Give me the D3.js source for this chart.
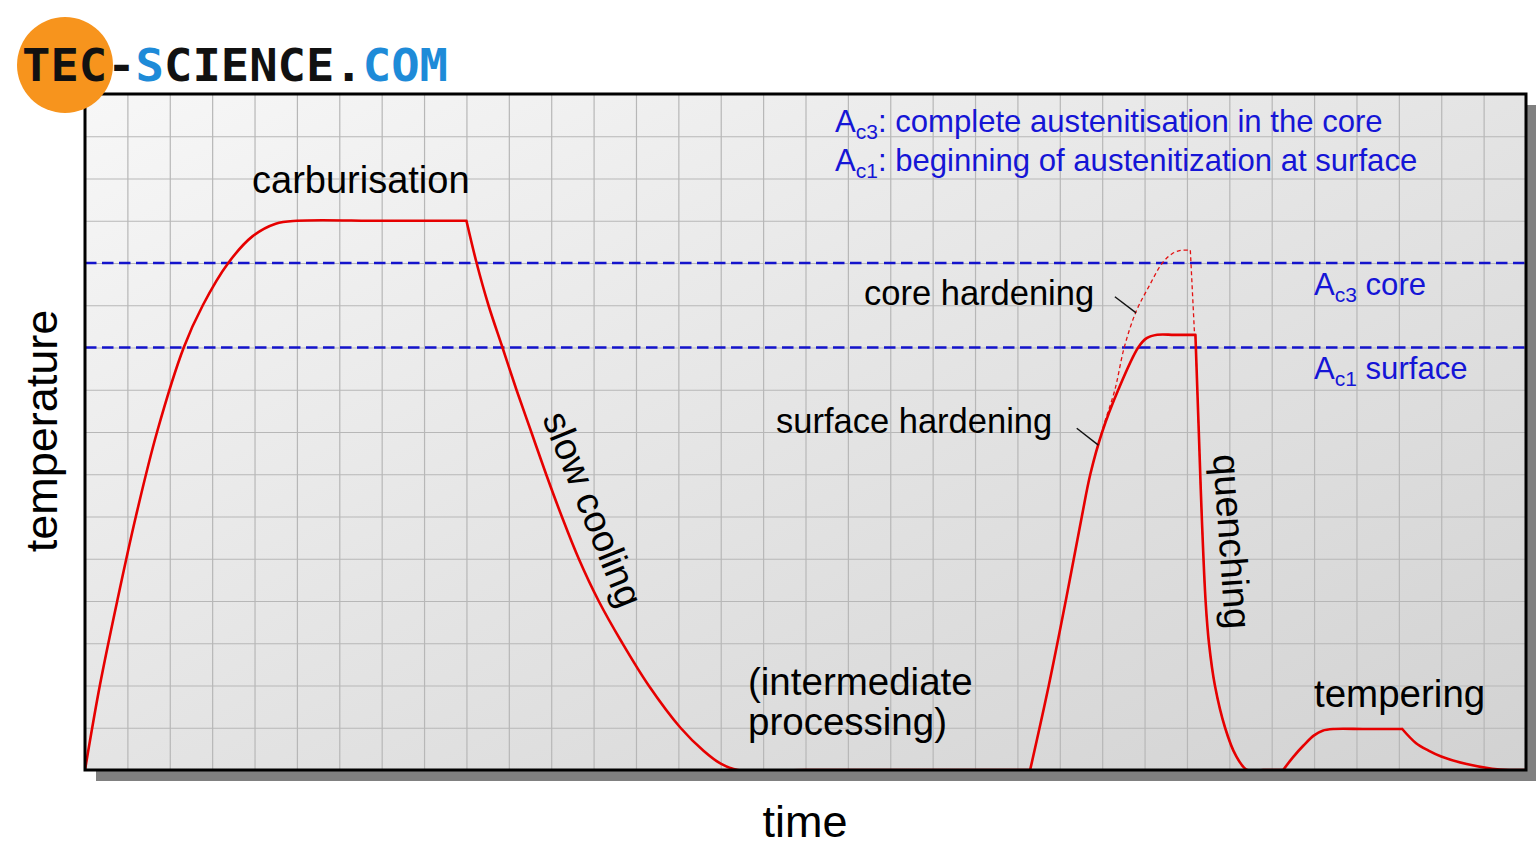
<!DOCTYPE html>
<html><head><meta charset="utf-8">
<script src="https://cdn.jsdelivr.net/npm/d3@7"></script>
<style>html,body{margin:0;padding:0;background:#fff;overflow:hidden}svg{display:block}</style>
</head><body>
<script>
// ---------- data (time and temperature in grid units) ----------
const timeDomain = [0, 34];
const tempDomain = [0, 16];
const thresholds = [12, 10];               // Ac3 core, Ac1 surface

// carburisation: heating + holding (smooth), then slow cooling down to room temperature
const carburisation = [[0,0],[0.35,2],[0.76,4],[1.2,6],[1.7,8],[2.33,10],[2.78,11],[3.38,12],[3.95,12.63],[4.5,12.93],[5,13],[7,13],[9,13]];
const slowCooling   = [[9,13],[9.24,12],[9.52,11],[9.85,10],[10.18,9],[10.53,8],[10.88,7],[11.25,6],[11.65,5],[12.12,4],[12.68,3],[13.3,2],[14.05,1],[14.6,0.45],[15.0,0.15],[15.4,0],[17,0],[22.3,0]];
// surface hardening: heating + holding, then quenching
const hardening     = [[22.3,0],[22.74,2],[23.14,4],[23.52,6],[23.72,7],[24.0,8],[24.38,9],[24.85,10],[25.05,10.22],[25.3,10.3],[25.7,10.3],[26.2,10.3]];
const quench        = [[26.2,10.3],[26.28,8],[26.35,6],[26.44,4],[26.52,3],[26.66,2],[26.9,1],[27.15,0.35],[27.42,0],[27.8,0],[28.27,0]];
// tempering
const tempering     = [[28.27,0],[28.5,0.3],[28.75,0.58],[29.0,0.82],[29.2,0.93],[29.45,0.97],[30.2,0.97],[31.08,0.97]];
const temperCool    = [[31.08,0.97],[31.4,0.64],[31.7,0.46],[32.0,0.32],[32.6,0.14],[33.2,0.03],[33.6,0],[34,0]];
// core hardening (dashed)
const coreRise      = [[23.88,7.6],[24.05,8.2],[24.3,9],[24.52,10],[24.8,10.85],[25.1,11.44],[25.42,12],[25.65,12.22],[25.85,12.3],[26.08,12.3]];
const coreDrop      = [[26.08,12.3],[26.18,10.3]];

const coreLeader    = [[24.3,11.2],[24.8,10.82]];
const surfaceLeader = [[23.4,8.09],[23.91,7.69]];

// ---------- layout ----------
const W = 1536, H = 864;
const m = {left:85, top:94, right:1526, bottom:770};
const FONT = "'Liberation Sans', Arial, Helvetica, sans-serif";

const svg = d3.select("body").append("svg").attr("width", W).attr("height", H);
const defs = svg.append("defs");
const grad = defs.append("linearGradient").attr("id","bg").attr("x1",0).attr("y1",0).attr("x2",1).attr("y2",1);
grad.append("stop").attr("offset",0).attr("stop-color","#f7f7f7");
grad.append("stop").attr("offset",0.5).attr("stop-color","#e4e4e4");
grad.append("stop").attr("offset",1).attr("stop-color","#d2d2d2");
defs.append("clipPath").attr("id","plotclip").append("rect")
  .attr("x",m.left).attr("y",m.top).attr("width",m.right-m.left).attr("height",m.bottom-m.top);

const x = d3.scaleLinear().domain(timeDomain).range([m.left, m.right]);
const y = d3.scaleLinear().domain(tempDomain).range([m.bottom, m.top]);

// shadow + background
svg.append("rect").attr("x",m.left+11).attr("y",m.top+11)
  .attr("width",m.right-m.left).attr("height",m.bottom-m.top).attr("fill","#808080");
svg.append("rect").attr("x",m.left).attr("y",m.top)
  .attr("width",m.right-m.left).attr("height",m.bottom-m.top).attr("fill","url(#bg)");

// grid via axes
const gx = svg.append("g").attr("transform",`translate(0,${m.bottom})`)
  .call(d3.axisBottom(x).tickValues(d3.range(timeDomain[0]+1, timeDomain[1])).tickSize(-(m.bottom-m.top)).tickFormat(""));
const gy = svg.append("g").attr("transform",`translate(${m.left},0)`)
  .call(d3.axisLeft(y).tickValues(d3.range(tempDomain[0]+1, tempDomain[1])).tickSize(-(m.right-m.left)).tickFormat(""));
[gx,gy].forEach(g=>{
  g.select(".domain").remove();
  g.selectAll(".tick line").attr("stroke","#b7b7b7").attr("stroke-width",1.2);
});

const plot = svg.append("g").attr("clip-path","url(#plotclip)");

// threshold dashed lines
plot.selectAll("line.thr").data(thresholds).join("line").attr("class","thr")
  .attr("x1",m.left).attr("x2",m.right).attr("y1",d=>y(d)).attr("y2",d=>y(d))
  .attr("stroke","#1414cc").attr("stroke-width",2.7).attr("stroke-dasharray","11.5,5.5");

const smooth = d3.curveCatmullRom.alpha(0.5);
function pathOf(segs){
  return segs.map(([pts,curve])=>d3.line().x(d=>x(d[0])).y(d=>y(d[1])).curve(curve)(pts)).join("");
}

// core hardening (dashed)
plot.append("path")
  .attr("d", pathOf([[coreRise,smooth],[coreDrop,d3.curveLinear],[quench,smooth]]))
  .attr("fill","none").attr("stroke","#e31010").attr("stroke-width",1.3).attr("stroke-dasharray","4,3");

// main temperature curve
plot.append("path")
  .attr("d", pathOf([[carburisation,smooth],[slowCooling,smooth],[hardening,smooth],
                     [quench,smooth],[tempering,smooth],[temperCool,smooth]]))
  .attr("fill","none").attr("stroke","#e60000").attr("stroke-width",2.6)
  .attr("stroke-linecap","round").attr("stroke-linejoin","round");

// leader lines
[coreLeader, surfaceLeader].forEach(l=>{
  plot.append("path").attr("d", d3.line().x(d=>x(d[0])).y(d=>y(d[1])).curve(d3.curveLinear)(l))
    .attr("stroke","#111").attr("stroke-width",1.4).attr("fill","none");
});

// border
svg.append("rect").attr("x",m.left).attr("y",m.top)
  .attr("width",m.right-m.left).attr("height",m.bottom-m.top)
  .attr("fill","none").attr("stroke","#000").attr("stroke-width",3);

// ---------- texts ----------
function label(txt, px, py, size, opts={}){
  const t = svg.append("text").attr("x",px).attr("y",py).attr("font-family",FONT)
    .attr("font-size",size).attr("fill",opts.fill||"#000").text(txt);
  if (opts.anchor) t.attr("text-anchor",opts.anchor);
  if (opts.rotate!==undefined) t.attr("transform",`rotate(${opts.rotate},${px},${py})`);
  return t;
}
label("carburisation", 252, 193, 38);
label("slow cooling", 542, 418, 38, {rotate:68});
label("(intermediate", 748, 695, 38.5);
label("processing)", 748, 735, 38.5);
label("core hardening", 864, 305, 34.5);
label("surface hardening", 776, 433, 34.5);
label("quenching", 1213, 455, 38, {rotate:86});
label("tempering", 1314, 707, 38.5);
label("time", 805, 837, 45, {anchor:"middle"});
label("temperature", 57, 431, 45, {anchor:"middle", rotate:-90});

const BLUE = "#1515d6";
function aLabel(px, py, sub, rest){
  const t = svg.append("text").attr("x",px).attr("y",py).attr("font-family",FONT)
    .attr("font-size",31.1).attr("fill",BLUE);
  t.append("tspan").text("A");
  t.append("tspan").attr("font-size",21).attr("dy",6.5).text(sub);
  t.append("tspan").attr("dy",-6.5).text(rest);
}
aLabel(835, 132, "c3", ": complete austenitisation in the core");
aLabel(835, 171, "c1", ": beginning of austenitization at surface");
aLabel(1314, 295, "c3", " core");
aLabel(1314, 379, "c1", " surface");

// ---------- logo ----------
svg.append("circle").attr("cx",65).attr("cy",65).attr("r",48).attr("fill","#f7941d");
const logo = svg.append("text").attr("x",22).attr("y",81).attr("font-family","'DejaVu Sans Mono', monospace")
  .attr("font-weight","bold").attr("font-size",45).attr("textLength",426).attr("lengthAdjust","spacingAndGlyphs");
[["TEC-","#111"],["S","#1e8bd8"],["CIENCE.","#111"],["COM","#1e8bd8"]].forEach(([s,c])=>{
  logo.append("tspan").attr("fill",c).text(s);
});
</script>
</body></html>
